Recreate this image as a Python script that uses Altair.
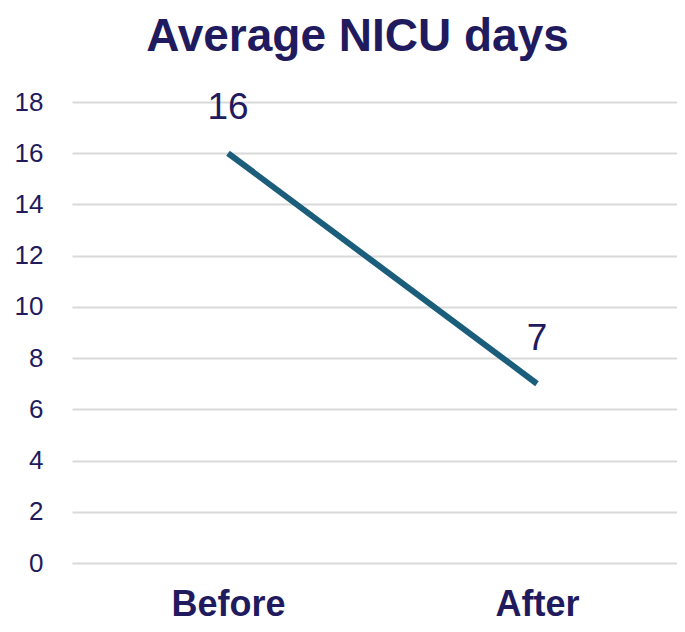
import altair as alt
import pandas as pd

periods = ["Before", "After"]
nicu_days = [16, 7]
y_ticks = [0, 2, 4, 6, 8, 10, 12, 14, 16, 18]

df = pd.DataFrame({"period": periods, "days": nicu_days})

navy = "#1F1B5E"
teal = "#1B5E7B"

base = alt.Chart(df).encode(
    x=alt.X(
        "period:N",
        sort=periods,
        scale=alt.Scale(type="point", padding=0.479, align=0.527),
        axis=alt.Axis(
            title=None, labelAngle=0, ticks=False, domain=False, grid=False,
            labelFontSize=36, labelFontWeight="bold", labelColor=navy,
            labelFont="Liberation Sans", labelBaseline="alphabetic", labelPadding=52,
        ),
    ),
    y=alt.Y(
        "days:Q",
        scale=alt.Scale(domain=[0, 18], nice=False),
        axis=alt.Axis(
            title=None, values=y_ticks, ticks=False, domain=False,
            gridColor="#D9D9D9", gridWidth=2,
            labelFontSize=26, labelColor=navy, labelFont="Liberation Sans",
            labelPadding=29,
        ),
    ),
)

line = base.mark_line(color=teal, strokeWidth=6, strokeCap="butt")
labels = base.mark_text(
    dy=-34, baseline="alphabetic", fontSize=37, color=navy, font="Liberation Sans"
).encode(text="days:Q")

chart = (
    alt.layer(line, labels)
    .properties(
        width=605,
        height=461,
        background="white",
        title=alt.TitleParams(
            "Average NICU days", fontSize=46, font="Liberation Sans",
            fontWeight="bold", color=navy, anchor="middle", frame="group",
            dx=-17, dy=-24,
        ),
        autosize=alt.AutoSizeParams(type="none"),
        padding={"left": 64, "top": 94, "right": 0, "bottom": 61},
    )
    .configure_view(strokeWidth=0, stroke="transparent")
)

chart.save("out.html", embed_options={"renderer": "svg", "actions": False})
